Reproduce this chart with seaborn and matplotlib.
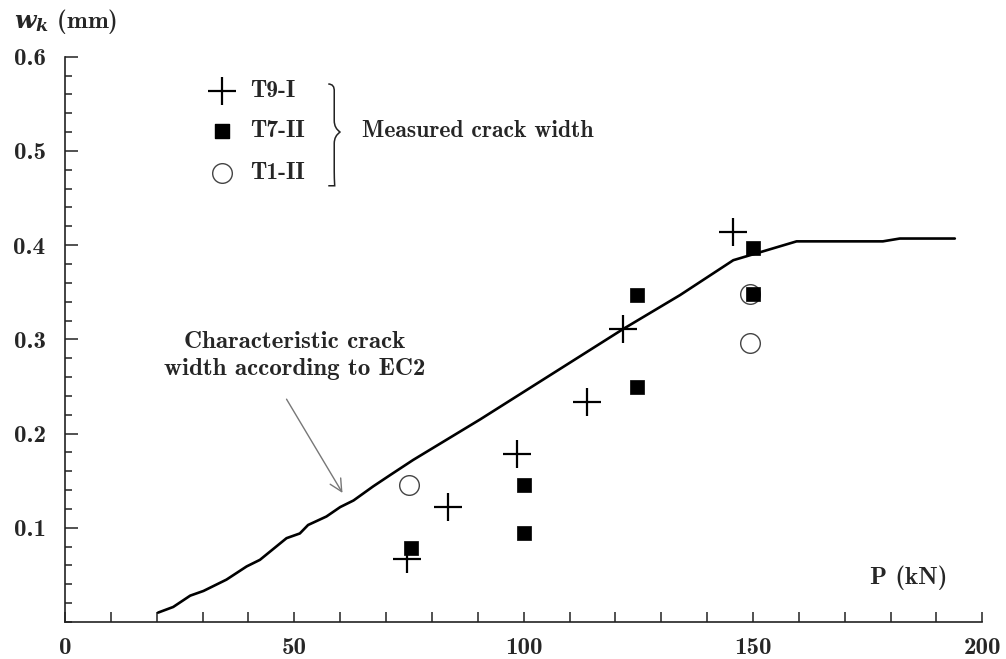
import matplotlib
matplotlib.use("Agg")
import matplotlib.pyplot as plt
import seaborn as sns
import numpy as np
from matplotlib.ticker import MultipleLocator
from matplotlib.path import Path
from matplotlib.patches import PathPatch

# ---- data ----
ec2_P = [20.3, 23.6, 27.3, 30.2, 35.2, 39.6, 42.5, 48.3, 51.2, 53.0, 57.0, 60.0,
         62.9, 67.2, 70.9, 75.9, 90.5, 121.7, 134.1, 145.7, 159.5, 178.3, 182.0, 194.0]
ec2_w = [0.010, 0.016, 0.028, 0.033, 0.045, 0.059, 0.066, 0.089, 0.094, 0.103, 0.112, 0.122,
         0.129, 0.144, 0.156, 0.172, 0.215, 0.311, 0.347, 0.384, 0.404, 0.404, 0.407, 0.407]

t9_P = [74.6, 83.6, 98.5, 113.7, 121.6, 145.6]
t9_w = [0.067, 0.122, 0.178, 0.233, 0.311, 0.414]

t7_P = [75.4, 100.1, 100.1, 124.8, 124.8, 150.0, 150.0]
t7_w = [0.079, 0.145, 0.095, 0.347, 0.249, 0.397, 0.348]

t1_P = [75.0, 149.4, 149.4]
t1_w = [0.145, 0.348, 0.296]

legend_labels = ["T9-I", "T7-II", "T1-II"]
x_ticks = [0, 50, 100, 150, 200]
y_ticks = [0.1, 0.2, 0.3, 0.4, 0.5, 0.6]

# ---- style ----
sns.set_style("white")
FONT = "cmb10"
plt.rcParams["font.family"] = [FONT, "DejaVu Serif"]
plt.rcParams["mathtext.fontset"] = "custom"
plt.rcParams["mathtext.it"] = "DejaVu Serif:italic:bold"
plt.rcParams["mathtext.rm"] = "cmb10"

fig = plt.figure(figsize=(10.06, 6.59), dpi=100)
ax = fig.add_axes([0.0646, 0.0561, 0.9119, 0.8579])

sns.lineplot(x=ec2_P, y=ec2_w, sort=False, estimator=None, color="black",
             linewidth=1.9, ax=ax)
sns.scatterplot(x=t1_P, y=t1_w, marker="o", s=200, facecolor="white",
                edgecolor="#444444", linewidth=1.0, ax=ax, zorder=3)
sns.scatterplot(x=t7_P, y=t7_w, marker="s", s=90, color="black",
                edgecolor="black", linewidth=0.5, ax=ax, zorder=4)
sns.scatterplot(x=t9_P, y=t9_w, marker="+", s=380, color="black",
                linewidth=1.6, ax=ax, zorder=5)

ax.set_xlim(0, 200)
ax.set_ylim(0, 0.6)
for s in ["top", "right"]:
    ax.spines[s].set_visible(False)
for s in ["left", "bottom"]:
    ax.spines[s].set_color("#222222")
    ax.spines[s].set_linewidth(1.2)

ax.set_xticks(x_ticks)
ax.set_yticks(y_ticks)
ax.set_xticklabels([str(v) for v in x_ticks])
ax.set_yticklabels([f"{v:.1f}" for v in y_ticks])
ax.xaxis.set_minor_locator(MultipleLocator(10))
ax.yaxis.set_minor_locator(MultipleLocator(0.02))
ax.tick_params(axis="x", which="both", direction="in", length=7, width=1.1,
               color="#222222", pad=11, labelsize=18, bottom=True)
ax.tick_params(axis="y", which="major", direction="in", length=9, width=1.1,
               color="#222222", pad=14, labelsize=18, left=True)
ax.tick_params(axis="y", which="minor", direction="in", length=5, width=1.1,
               color="#222222", left=True)
for lab in ax.get_xticklabels() + ax.get_yticklabels():
    lab.set_fontfamily(FONT)
ax.set_xlabel("")
ax.set_ylabel("")

# axis titles
fig.text(0.014, 0.968, r"$w_k$ (mm)", fontsize=18, fontfamily=FONT,
         ha="left", va="center")
ax.text(184, 0.047, "P (kN)", fontsize=18, fontfamily=FONT, ha="center", va="center")

# legend (manual)
leg_y = [0.564, 0.521, 0.477]
ax.scatter([34.2], [leg_y[0]], marker="+", s=380, color="black", linewidth=1.6,
           clip_on=False)
ax.scatter([34.2], [leg_y[1]], marker="s", s=90, color="black", clip_on=False)
ax.scatter([34.2], [leg_y[2]], marker="o", s=200, facecolor="white",
           edgecolor="#444444", linewidth=1.0, clip_on=False)
for yy, lab in zip(leg_y, legend_labels):
    ax.text(40.3, yy, lab, fontsize=17, fontfamily=FONT, ha="left", va="center")

# brace
bx0, bx1 = 57.4, 60.0
yt, ym, yb = 0.571, 0.520, 0.463
verts = [(bx0, yt), (bx0 + 1.4, yt), (bx0 + 1.3, yt - 0.008), (bx0 + 1.3, yt - 0.015),
         (bx0 + 1.3, ym + 0.012), (bx0 + 1.3, ym + 0.004), (bx1, ym),
         (bx0 + 1.3, ym - 0.004), (bx0 + 1.3, ym - 0.012), (bx0 + 1.3, yb + 0.015),
         (bx0 + 1.3, yb + 0.008), (bx0 + 1.4, yb), (bx0, yb)]
codes = [Path.MOVETO, Path.CURVE3, Path.CURVE3, Path.LINETO,
         Path.LINETO, Path.CURVE3, Path.CURVE3,
         Path.CURVE3, Path.CURVE3, Path.LINETO,
         Path.CURVE3, Path.CURVE3, Path.LINETO]
ax.add_patch(PathPatch(Path(verts, codes), facecolor="none", edgecolor="#222222",
                       linewidth=1.1, clip_on=False))
ax.text(64.7, 0.521, "Measured crack width", fontsize=17, fontfamily=FONT,
        ha="left", va="center")

# annotation
ax.text(50.0, 0.283, "Characteristic crack\nwidth according to EC2", ha="center",
        va="center", fontsize=18, fontfamily=FONT, linespacing=1.3)
ax.annotate("", xy=(60.5, 0.137), xytext=(48.3, 0.2365), textcoords="data",
            arrowprops=dict(arrowstyle="->", color="#777777", lw=1.0,
                            shrinkA=0, shrinkB=0, mutation_scale=22))

fig.savefig("out.png", dpi=100)
